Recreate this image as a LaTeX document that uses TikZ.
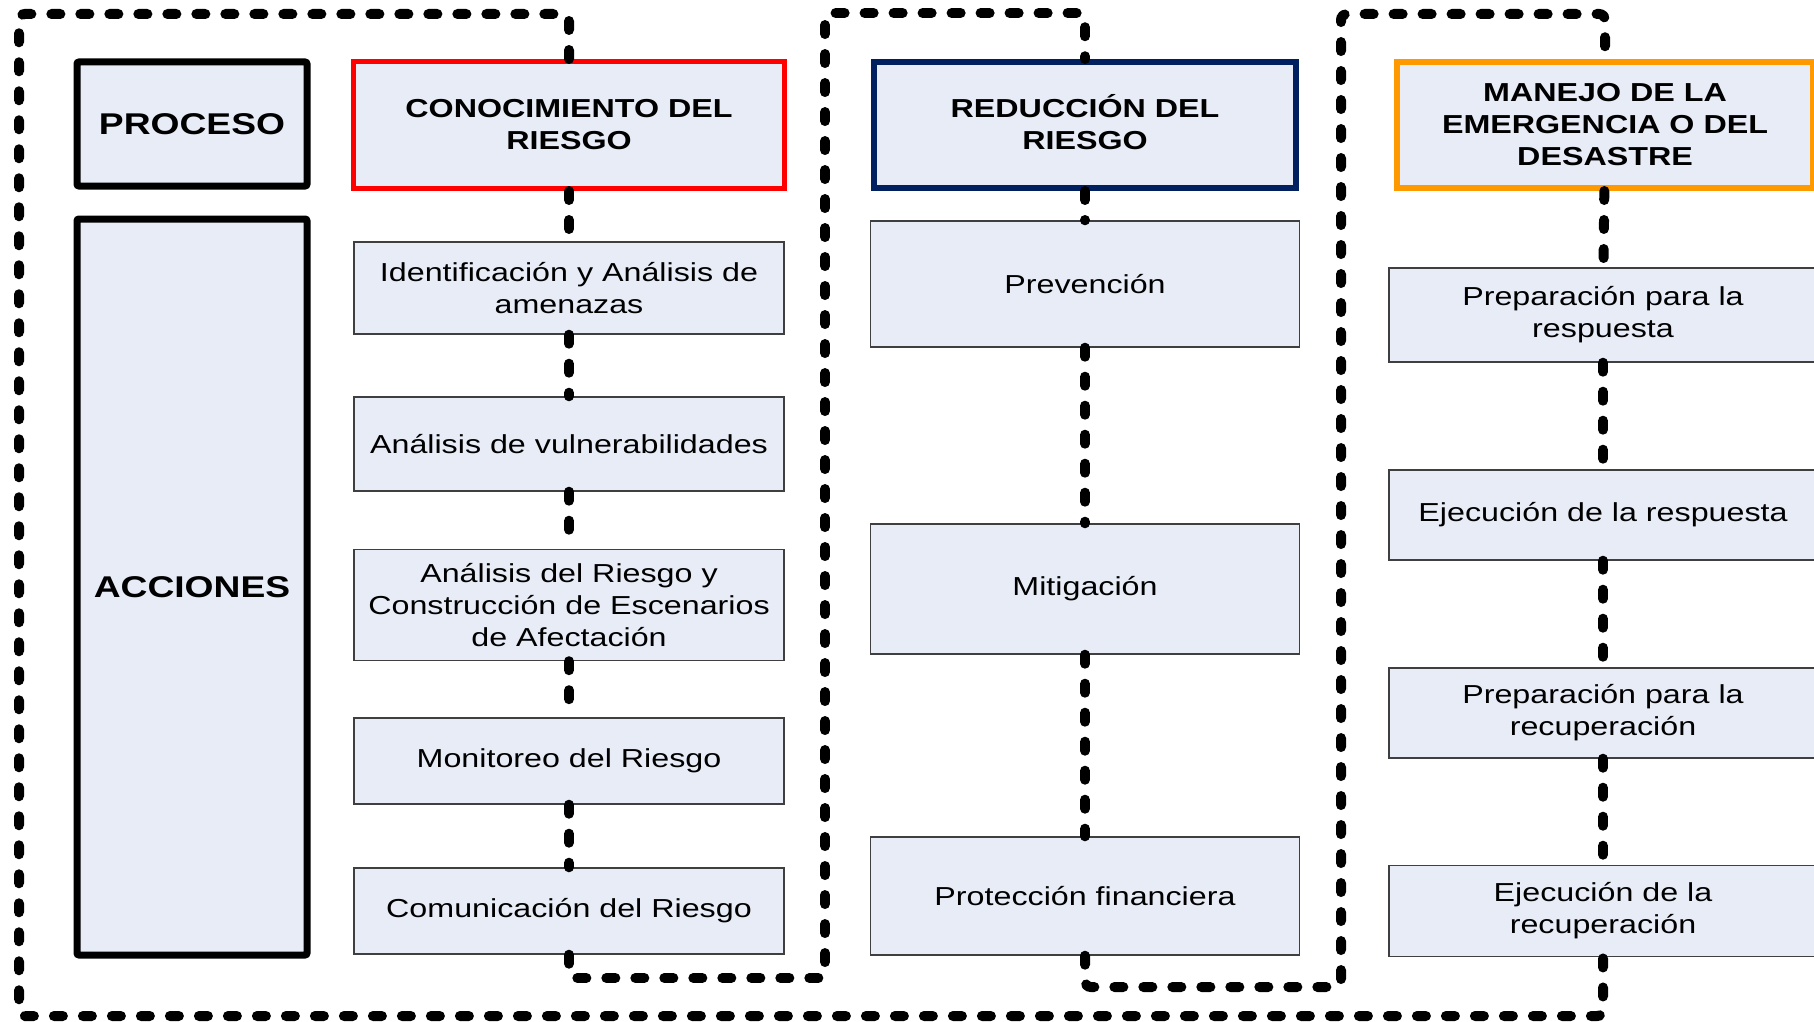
\documentclass[tikz,border=0pt]{standalone}
\usepackage{fontspec}
\setmainfont{Liberation Sans}[FakeStretch=1.24]
\definecolor{fondo}{HTML}{E7ECF7}
\definecolor{rojo}{HTML}{FF0000}
\definecolor{azul}{HTML}{002060}
\definecolor{naranja}{HTML}{FF9900}
\definecolor{borde}{HTML}{3F3F3F}
\tikzset{
	caja/.style={draw=borde,line width=0.7pt,fill=fondo,align=center,inner sep=0pt,font=\fontsize{13}{16}\selectfont},
	titulo/.style={fill=fondo,align=center,inner sep=0pt,font=\fontsize{13}{16}\selectfont\bfseries},
	bloque/.style={titulo,draw=black,line width=3.5pt,rounded corners=1pt,minimum width=115pt,font=\fontsize{15}{18}\selectfont\bfseries},
	enlace/.style={line width=5pt,line cap=round,dash pattern=on 4.5pt off 10pt},
}
\begin{document}
\begin{tikzpicture}[x=0.5pt,y=-0.5pt]
			\useasboundingbox (0,0) rectangle (1814,1022);
			\clip (0,0) rectangle (1814,1022);
			\node[bloque,minimum height=62pt] (proceso) at (192,124){PROCESO};
			\node[bloque,minimum height=368pt] (acciones) at (192,587){ACCIONES};
			\node[titulo,draw=rojo,line width=2.5pt,minimum width=215.5pt,minimum height=63.5pt] (k0) at (569,125){CONOCIMIENTO DEL\\RIESGO};
			\node[titulo,draw=azul,line width=3pt,minimum width=211pt,minimum height=63pt] (r0) at (1085,125){REDUCCI\smash{Ó}N DEL\\RIESGO};
			\node[titulo,draw=naranja,line width=3pt,minimum width=208pt,minimum height=63pt] (m0) at (1605,125){MANEJO DE LA\\EMERGENCIA O DEL\\DESASTRE};
			\foreach\n/\y/\h/\t in {1/288/92/{Identificación y Análisis de\\amenazas},2/444/94/{Análisis de vulnerabilidades},3/605/111/{Análisis del Riesgo y\\Construcción de Escenarios\\de Afectación},4/761/86/{Monitoreo del Riesgo},5/911/86/{Comunicación del Riesgo}}{
				\node[caja,minimum width=215pt,minimum height=\h*0.5pt] (k\n) at (569,\y){\t};
			}
			\foreach\n/\y/\h/\t in {1/284/126/{Prevención},2/589/130/{Mitigación},3/896/118/{Protección financiera}}{
				\node[caja,minimum width=214.5pt,minimum height=\h*0.5pt] (r\n) at (1085,\y){\t};
			}
			\foreach\n/\y/\h/\t in {1/315/94/{Preparación para la\\respuesta},2/515/90/{Ejecución de la respuesta},3/713/90/{Preparación para la\\recuperación},4/911/91/{Ejecución de la\\recuperación}}{
				\node[caja,minimum width=214pt,minimum height=\h*0.5pt] (m\n) at (1603,\y){\t};
			}
			\foreach\a/\b in {k0/k1,k1/k2,k2/k3,k3/k4,k4/k5,r0/r1,r1/r2,r2/r3,m0/m1,m1/m2,m2/m3,m3/m4}{
				\draw[enlace] (\a) to (\b);
			}
			\coordinate (a1) at (19,14);
			\coordinate (a2) at (19,1016);
			\draw[enlace,rounded corners=3pt] (k0.north) |- (a1) -- (a2) -| (m4.south);
			\coordinate (b1) at (825,978);
			\coordinate (b2) at (825,13);
			\draw[enlace,rounded corners=3pt] (k5.south) |- (b1) -- (b2) -| (r0.north);
			\coordinate (c1) at (1341,987);
			\coordinate (c2) at (1341,14);
			\draw[enlace,rounded corners=3pt] (r3.south) |- (c1) -- (c2) -| (m0.north);
		\end{tikzpicture}
\end{document}
